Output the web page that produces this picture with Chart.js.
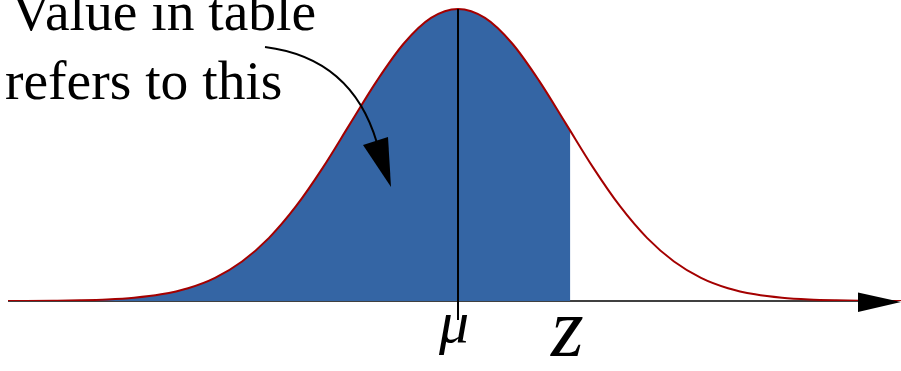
<!DOCTYPE html>
<html>
<head>
<meta charset="utf-8">
<script src="https://cdn.jsdelivr.net/npm/chart.js@4.4.1/dist/chart.umd.min.js"></script>
<style>
  html, body { margin: 0; padding: 0; background: #fff; }
  #wrap { width: 901px; height: 371px; position: relative; }
</style>
</head>
<body>
<div id="wrap"><canvas id="curve"></canvas></div>
<script>
// positions along the axis, in standard deviations from the mean
const xValues = [-4.25, -4, -3.75, -3.5, -3.25, -3, -2.75, -2.5, -2.25, -2, -1.75, -1.5, -1.25, -1, -0.75, -0.5, -0.25,
    0, 0.25, 0.5, 0.75, 1, 1.25, 1.5, 1.75, 2, 2.25, 2.5, 2.75, 3, 3.25, 3.5, 3.75, 4, 4.25];
// curve height
const density = [0.000, 0.0001, 0.0004, 0.0009, 0.002, 0.0044, 0.0091, 0.0175, 0.0317, 0.054, 0.0863, 0.1295, 0.1826, 0.242, 0.3011, 0.3521, 0.3867,
    0.3989, 0.3867, 0.3521, 0.3011, 0.242, 0.1826, 0.1295, 0.0863, 0.054, 0.0317, 0.0175, 0.0091, 0.0044, 0.002, 0.0009, 0.0004, 0.0001, 0.000];
const zValue = 1.04;
const zDensity = 0.232;
const meanLabel = 'μ';
const zLabel = 'z';
const noteLines = ['Value in table', 'refers to this'];

const curvePoints = xValues.map((x, i) => ({ x: x, y: density[i] }));
const shadedPoints = curvePoints.filter(p => p.x < zValue);
shadedPoints.push({ x: zValue, y: zDensity });

const decorations = {
    id: 'decorations',
    beforeDatasetsDraw(chart) {
        const ctx = chart.ctx;
        const ys = chart.scales.y;
        const y0 = ys.getPixelForValue(0);
        ctx.save();
        // horizontal axis
        ctx.strokeStyle = '#000';
        ctx.lineWidth = 1.6;
        ctx.beginPath();
        ctx.moveTo(chart.chartArea.left, y0);
        ctx.lineTo(chart.chartArea.right - 30, y0);
        ctx.stroke();
        ctx.restore();
    },
    afterDatasetsDraw(chart) {
        const ctx = chart.ctx;
        const xs = chart.scales.x;
        const ys = chart.scales.y;
        const y0 = ys.getPixelForValue(0);
        const right = chart.chartArea.right;
        const muX = xs.getPixelForValue(0);
        const zX = xs.getPixelForValue(zValue);
        ctx.save();

        // arrowhead
        ctx.fillStyle = '#000';
        ctx.beginPath();
        ctx.moveTo(right, y0 + 1);
        ctx.lineTo(right - 43, y0 - 8.5);
        ctx.lineTo(right - 43, y0 + 11);
        ctx.closePath();
        ctx.fill();

        // mean line
        ctx.strokeStyle = '#000';
        ctx.lineWidth = 2;
        ctx.beginPath();
        ctx.moveTo(muX, ys.getPixelForValue(density[xValues.indexOf(0)]));
        ctx.lineTo(muX, y0 + 19);
        ctx.stroke();

        // labels under the axis
        ctx.textAlign = 'center';
        ctx.textBaseline = 'alphabetic';
        ctx.font = 'italic 60px "Liberation Serif"';
        ctx.fillText(meanLabel, muX - 4, y0 + 41);
        ctx.font = 'italic 84px "Liberation Serif"';
        ctx.fillText(zLabel, zX - 3, y0 + 55);

        // note text
        ctx.textAlign = 'left';
        ctx.font = '55.5px "Liberation Serif"';
        ctx.fillText(noteLines[0], 11, 30);
        ctx.fillText(noteLines[1], 5, 99);

        // curved pointer
        ctx.lineWidth = 2;
        ctx.beginPath();
        ctx.moveTo(265, 47);
        ctx.quadraticCurveTo(352, 58, 377, 143);
        ctx.stroke();
        ctx.beginPath();
        ctx.moveTo(363, 145);
        ctx.lineTo(388, 137);
        ctx.lineTo(391, 187);
        ctx.closePath();
        ctx.fill();
        ctx.restore();
    }
};

const ctx = document.getElementById('curve').getContext('2d');
new Chart(ctx, {
    type: 'line',
    data: {
        datasets: [
            {
                label: 'curve',
                data: curvePoints,
                borderColor: '#a40000',
                borderWidth: 2,
                pointRadius: 0,
                fill: false,
                cubicInterpolationMode: 'monotone'
            },
            {
                label: 'shaded',
                data: shadedPoints,
                borderWidth: 0,
                borderColor: 'rgba(0,0,0,0)',
                backgroundColor: '#3465a4',
                pointRadius: 0,
                fill: 'origin',
                cubicInterpolationMode: 'monotone'
            }
        ]
    },
    options: {
        responsive: true,
        maintainAspectRatio: false,
        animation: false,
        layout: { padding: { left: 8, right: 0, top: 0, bottom: 70 } },
        plugins: { legend: { display: false }, tooltip: { enabled: false } },
        scales: {
            x: { type: 'linear', min: -4.167, max: 4.102, display: false },
            y: { min: 0, max: 0.4112, display: false }
        }
    },
    plugins: [decorations]
});
</script>
</body>
</html>
